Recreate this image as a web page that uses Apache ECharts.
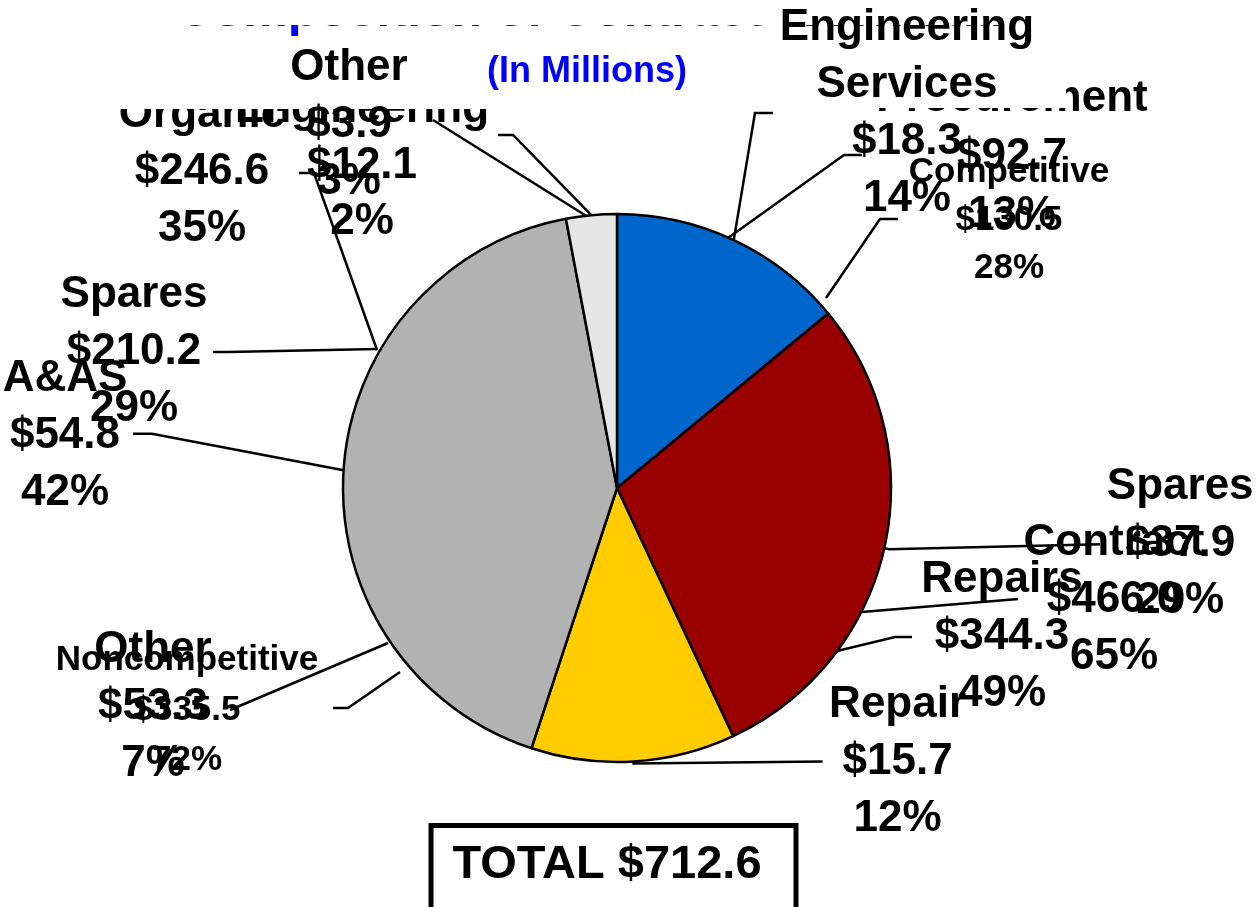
<!DOCTYPE html>
<html>
<head>
<meta charset="utf-8">
<script src="https://cdn.jsdelivr.net/npm/echarts@6/dist/echarts.min.js"></script>
<style>
html,body{margin:0;padding:0;background:#fff;}
#chart{width:1259px;height:907px;}
</style>
</head>
<body>
<div id="chart"></div>
<script>
// ---- data (visible pie) ----
const categories = ['Engineering Services', 'Spares', 'Repair', 'A&AS', 'Other'];
const values = [18.3, 37.9, 15.7, 54.8, 3.9];

// ---- data (overlapping labels of the other breakdowns) ----
const ghostNames = ['Organic', 'Engineering', 'Procurement', 'Competitive', 'Contract', 'Repairs', 'Spares', 'Other', 'Noncompetitive'];
const ghostValues = [246.6, 12.1, 92.7, 130.5, 466.0, 344.3, 210.2, 53.3, 335.5];
const ghostPercents = [35, 2, 13, 28, 65, 49, 29, 7, 72];

const titleText = 'Composition of Contract Workload';
const subtitleText = '(In Millions)';
const totalLabel = 'TOTAL';

// ---- styles / layout ----
const colors = ['#0066CC', '#990000', '#FFCC00', '#B2B2B2', '#E6E6E6'];
const FONT = '"Liberation Sans", Arial, sans-serif';
const LINE_W = 2.5;
const lineLen = [[138, 16], [5, 211], [2, 188], [192, 19], [80, 13]];
const labelWidth = [258, 150, 140, 126, 288];
// offsets relative to the library's own label-line geometry: bend point, end point, text
const labelShift = [
  {bend: [-37.6, -2.3], end: [-35.6, -2.3], text: [0, 0]},
  {bend: [0, 0], end: [0, -5], text: [0, 0]},
  {bend: [0, 0], end: [1, -2], text: [0, 0]},
  {bend: [0, -24], end: [0, -24], text: [0, 2]},
  {bend: [-70.8, -0.6], end: [-72.8, -0.6], text: [0, -10]}
];
// ghost label placement: [centerX, centerY, fontSize, lineHeight]
const ghostPos = [
  [202, 172, 44, 57],
  [362, 166, 44, 56],
  [1012, 157, 44, 58],
  [1009, 220, 35, 48],
  [1114, 600, 44, 57],
  [1002, 637, 44, 57],
  [134, 352, 44, 57],
  [153, 707, 44, 57],
  [187, 710, 35, 50]
];
const ghostLines = [
  [[377, 350], [314, 173], [299, 173]],
  [[588, 217], [433, 120]],
  [[728, 238], [844, 155], [862, 155]],
  [[826, 298], [880, 219], [898, 219]],
  [[862, 612], [1018, 599]],
  [[837, 651], [895, 637], [912, 637]],
  [[377, 349], [228, 352], [213, 352]],
  [[388, 643], [230, 710]],
  [[400, 672], [348, 708], [333, 708]]
];

const rich = {};
labelWidth.forEach(function (w, i) {
  rich['m' + i] = {
    width: w, align: 'center', fontSize: 44, fontWeight: 'bold',
    fontFamily: FONT, lineHeight: 57, color: '#000'
  };
});

const graphics = [];
// blue title (only its lower edge shows)
graphics.push({
  type: 'text', x: 590, y: 12, z: 0,
  style: {text: titleText, font: 'bold 50px ' + FONT, fill: '#0000FF',
    align: 'center', verticalAlign: 'middle', textAlign: 'center', textVerticalAlign: 'middle'}
});
graphics.push({type: 'rect', z: 1, shape: {x: 0, y: 0, width: 1259, height: 25}, style: {fill: '#fff'}});

ghostNames.forEach(function (n, i) {
  const g = ghostPos[i];
  graphics.push({
    type: 'text', x: g[0], y: g[1], z: 0,
    style: {
      text: n + '\n$' + ghostValues[i].toFixed(1) + '\n' + ghostPercents[i] + '%',
      font: 'bold ' + g[2] + 'px ' + FONT, lineHeight: g[3], fill: '#000',
      align: 'center', verticalAlign: 'middle', textAlign: 'center', textVerticalAlign: 'middle'
    }
  });
});
ghostLines.forEach(function (pts) {
  graphics.push({type: 'polyline', z: 0, shape: {points: pts}, style: {stroke: '#000', lineWidth: LINE_W, fill: null}});
});
// white boxes that hide parts of the background labels
graphics.push({type: 'rect', z: 1, shape: {x: 100, y: 40, width: 400, height: 69}, style: {fill: '#fff'}});
graphics.push({type: 'rect', z: 1, shape: {x: 770, y: 34, width: 296, height: 74}, style: {fill: '#fff'}});

graphics.push({
  type: 'text', x: 587, y: 72, z: 6,
  style: {text: subtitleText, font: 'bold 36px ' + FONT, fill: '#0000FF',
    align: 'center', verticalAlign: 'middle', textAlign: 'center', textVerticalAlign: 'middle'}
});
const total = ghostValues[0] + ghostValues[4];
graphics.push({type: 'rect', z: 6, shape: {x: 431, y: 825.5, width: 365, height: 120},
  style: {fill: '#fff', stroke: '#000', lineWidth: 5}});
graphics.push({
  type: 'text', x: 607, y: 865, z: 7,
  style: {text: totalLabel + ' $' + total.toFixed(1), font: 'bold 47px ' + FONT, fill: '#000',
    align: 'center', verticalAlign: 'middle', textAlign: 'center', textVerticalAlign: 'middle'}
});

const chart = echarts.init(document.getElementById('chart'), null, {renderer: 'canvas'});
chart.setOption({
  animation: false,
  backgroundColor: '#fff',
  graphic: {elements: graphics},
  series: [{
    type: 'pie',
    z: 5,
    center: [617, 488],
    radius: 274,
    startAngle: 90,
    clockwise: true,
    avoidLabelOverlap: false,
    percentPrecision: 0,
    silent: true,
    emphasis: {disabled: true},
    itemStyle: {borderColor: '#000', borderWidth: LINE_W},
    data: categories.map(function (n, i) {
      return {
        name: n, value: values[i],
        itemStyle: {color: colors[i]},
        label: {width: labelWidth[i]},
        labelLine: {length: lineLen[i][0], length2: lineLen[i][1]}
      };
    }),
    label: {
      show: true, position: 'outside', alignTo: 'none', distanceToLabelLine: 5,
      overflow: 'none', color: '#000', fontFamily: FONT, fontWeight: 'bold', fontSize: 44,
      formatter: function (p) {
        const k = 'm' + p.dataIndex;
        const lines = p.name.split(' ').concat(['$' + p.value.toFixed(1), p.percent + '%']);
        return lines.map(function (s) { return '{' + k + '|' + s + '}'; }).join('\n');
      },
      rich: rich
    },
    labelLine: {show: true, smooth: false, lineStyle: {color: '#000', width: LINE_W}},
    labelLayout: function (p) {
      const pts = p.labelLinePoints;
      if (!pts) return {};
      const s = labelShift[p.dataIndex];
      const p2 = [pts[1][0] + s.bend[0], pts[1][1] + s.bend[1]];
      const p3 = [pts[2][0] + s.end[0], pts[2][1] + s.end[1]];
      const right = p3[0] >= p2[0];
      return {
        x: p3[0] + (right ? 5 : -5) + s.text[0],
        y: p3[1] + s.text[1],
        align: right ? 'left' : 'right',
        verticalAlign: 'middle',
        labelLinePoints: [pts[0], p2, p3]
      };
    }
  }]
});
</script>
</body>
</html>
